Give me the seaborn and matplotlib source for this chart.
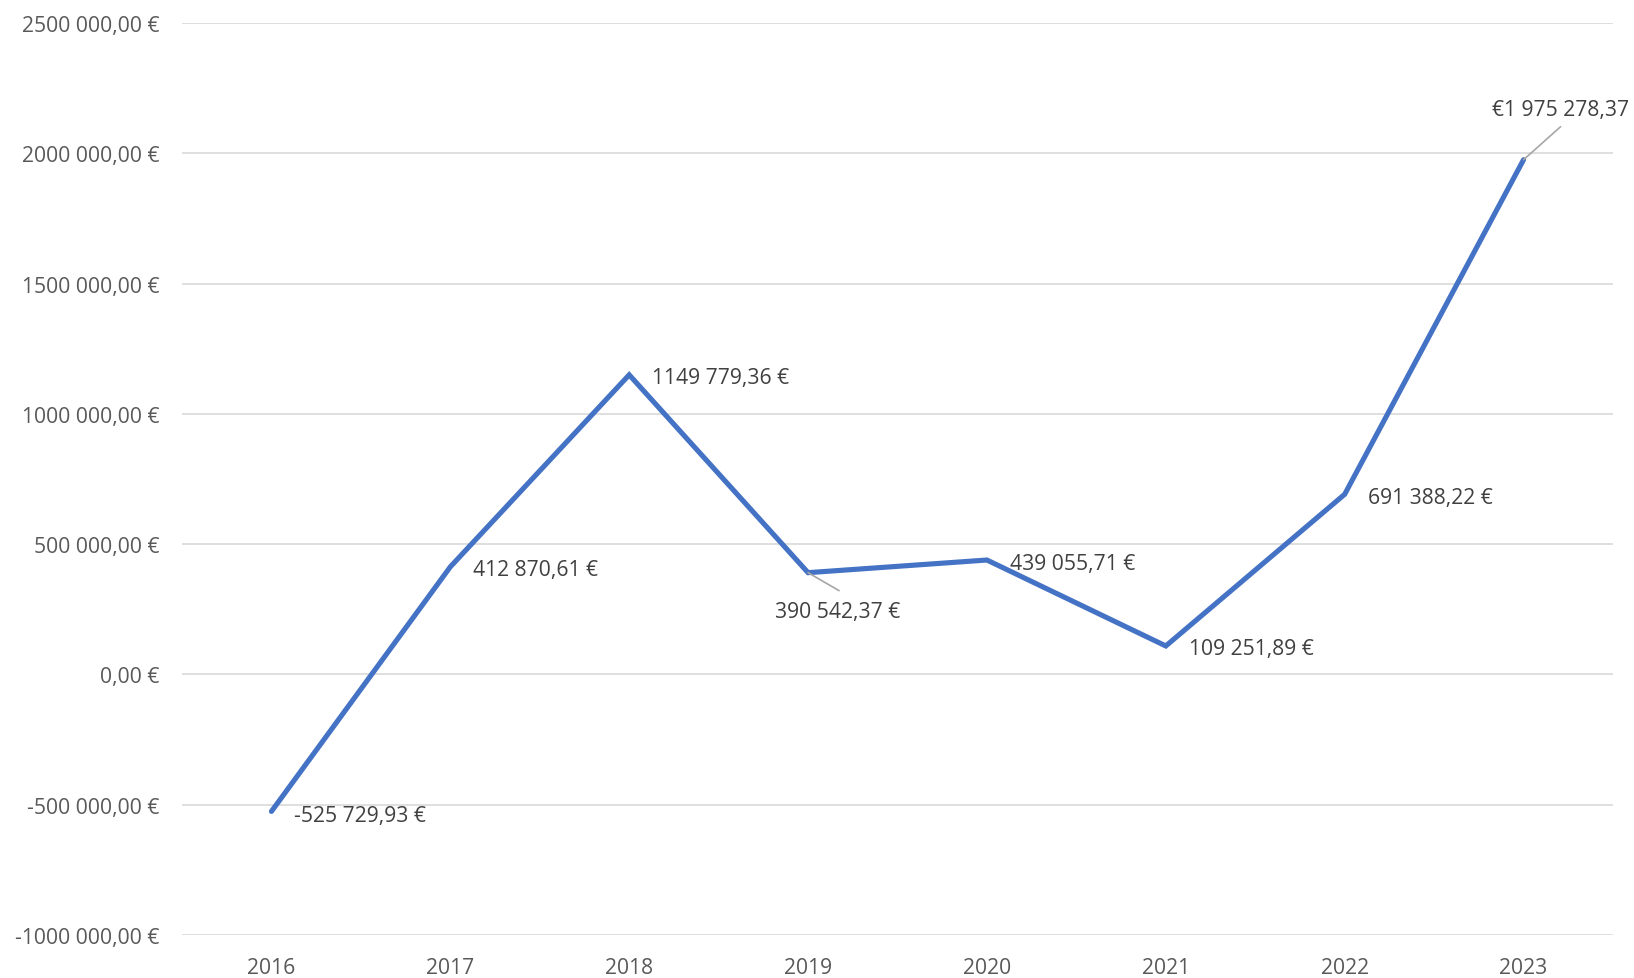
import matplotlib
matplotlib.use("Agg")
import matplotlib.pyplot as plt
import seaborn as sns
import pandas as pd
from matplotlib.ticker import FuncFormatter, MultipleLocator

years = [2016, 2017, 2018, 2019, 2020, 2021, 2022, 2023]
values = [-525729.93, 412870.61, 1149779.36, 390542.37, 439055.71, 109251.89, 691388.22, 1975278.37]

LINE_COLOR = "#4472C4"
TICK_COLOR = "#595959"
LABEL_COLOR = "#404040"
GRID_COLOR = "#D9D9D9"
LEADER_COLOR = "#A6A6A6"
FS = 15.2


def eur_short(v):
    """Format like '1149 779,36 €' (a single thousands separator)."""
    sign = "-" if v < 0 else ""
    cents = int(round(abs(v) * 100))
    whole, frac = divmod(cents, 100)
    thousands, rest = divmod(whole, 1000)
    body = f"{thousands} {rest:03d}" if thousands else f"{rest}"
    return f"{sign}{body},{frac:02d} €"


def eur_prefix(v):
    """Format like '€1 975 278,37' (full grouping, leading symbol)."""
    cents = int(round(abs(v) * 100))
    whole, frac = divmod(cents, 100)
    grouped = f"{whole:,}".replace(",", " ")
    return f"€{grouped},{frac:02d}"


df = pd.DataFrame({"year": years, "value": values})

sns.set_theme(style="white")
plt.rcParams["font.family"] = ["Open Sans", "DejaVu Sans"]

fig = plt.figure(figsize=(16.34, 9.79), dpi=100)
ax = fig.add_axes([182 / 1634, 1 - 936 / 979, (1613 - 182) / 1634, (936 - 24) / 979])

sns.lineplot(data=df, x="year", y="value", ax=ax, color=LINE_COLOR,
             linewidth=3.7, solid_capstyle="round", solid_joinstyle="miter")

ax.set_xlim(years[0] - 0.5, years[-1] + 0.5)
ax.set_ylim(-1000000, 2500000)
ax.yaxis.set_major_locator(MultipleLocator(500000))
ax.yaxis.set_major_formatter(FuncFormatter(lambda v, p: eur_short(v)))
ax.set_xticks(years)
ax.set_xticklabels([str(y) for y in years])

ax.grid(axis="y", color=GRID_COLOR, linewidth=1.2)
ax.grid(axis="x", visible=False)
ax.set_axisbelow(True)
for s in ax.spines.values():
    s.set_visible(False)
ax.tick_params(axis="y", length=0, pad=16, labelsize=FS, labelcolor=TICK_COLOR)
ax.tick_params(axis="x", length=0, pad=15.5, labelsize=FS, labelcolor=TICK_COLOR)
ax.set_xlabel("")
ax.set_ylabel("")

# Data labels: offsets in pixels from each point
label_kw = dict(textcoords="offset pixels", fontsize=FS, color=LABEL_COLOR)
right_offsets = {2016: -4, 2017: -3, 2018: -3, 2020: -3, 2021: -3, 2022: -3}
for y, v in zip(years, values):
    if y in right_offsets:
        ax.annotate(eur_short(v), (y, v), xytext=(23, right_offsets[y]),
                    ha="left", va="center", **label_kw)

leader = dict(arrowstyle="-", color=LEADER_COLOR, lw=1.2, shrinkA=0, shrinkB=0)

# 2019 label sits below the point with a short leader line
ax.annotate(eur_short(values[3]), (years[3], values[3]), xytext=(30, -39),
            ha="center", va="center", **label_kw)
ax.annotate("", (years[3], values[3]), xytext=(31, -18),
            textcoords="offset pixels", arrowprops=leader)

# 2023 label above-right with a leader line
ax.annotate(eur_prefix(values[7]), (years[7], values[7]), xytext=(-32, 50),
            ha="left", va="center", **label_kw)
ax.annotate("", (years[7], values[7]), xytext=(37, 33),
            textcoords="offset pixels", arrowprops=leader)

fig.savefig("out.png", dpi=100)
